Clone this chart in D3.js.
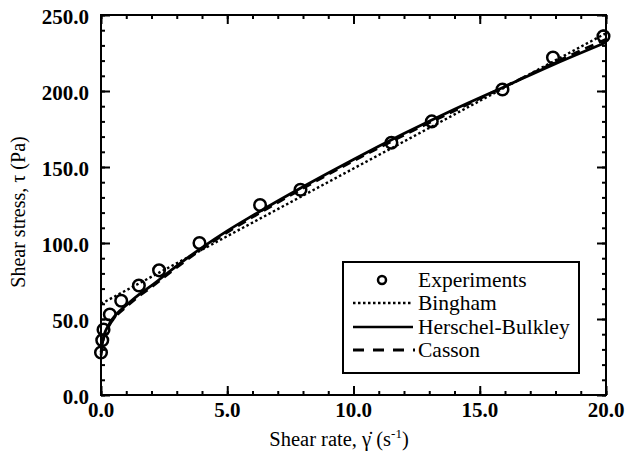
<!DOCTYPE html>
<html><head><meta charset="utf-8">
<script src="https://cdn.jsdelivr.net/npm/d3@7/dist/d3.min.js"></script>
<style>body{margin:0;background:#fff}svg{display:block}</style>
</head><body><svg id="c" width="632" height="454"></svg>
<script>
// Experimental data
const expX = [0, 0.05, 0.1, 0.35, 0.8, 1.5, 2.3, 3.9, 6.3, 7.9, 11.5, 13.1, 15.9, 17.9, 19.9];
const expY = [28, 36, 43, 53, 62, 72, 82, 100, 125, 135, 166, 180, 201, 222, 236];
// Model curves
const binghamX = [0, 20];
const binghamY = [60, 238];
const hbX = [0, 0.1, 0.3, 0.6, 1, 1.5, 2, 3, 4, 5, 6, 8, 10, 12, 14, 16, 18, 20];
const hbY = [28, 38, 46, 53, 59, 66, 72, 85, 97, 108, 118, 137, 155, 172, 188, 203, 218, 232];
const cassonX = [0, 0.1, 0.3, 0.6, 1, 1.5, 2, 3, 4, 5, 6, 8, 10, 12, 14, 16, 18, 20];
const cassonY = [26, 37, 45, 52, 58, 65, 71, 84, 96, 107, 117, 136, 154, 171, 187, 203, 219, 234];
const xTicks = [0, 5, 10, 15, 20];
const yTicks = [0, 50, 100, 150, 200, 250];
const legendLabels = ["Experiments", "Bingham", "Herschel-Bulkley", "Casson"];

const FONT = "Liberation Serif";
const svg = d3.select("#c").attr("font-family", FONT);
const L = 101, R = 606, T = 15, B = 395;
const x = d3.scaleLinear().domain([0, 20]).range([L, R]);
const y = d3.scaleLinear().domain([0, 250]).range([B, T]);
const FS = 21;

// frame
svg.append("rect").attr("x", L).attr("y", T).attr("width", R - L).attr("height", B - T)
  .attr("fill", "none").attr("stroke", "#000").attr("stroke-width", 2);

// ticks
const xMinor = d3.range(0, 20.001, 1), yMinor = d3.range(0, 250.001, 10);
function addAxis(axisGen, tx, ty) {
  const g = svg.append("g").attr("transform", `translate(${tx},${ty})`).call(axisGen);
  g.select(".domain").remove();
  g.selectAll("line").attr("stroke", "#000").attr("stroke-width", 2);
  g.selectAll("text").remove();
  return g;
}
addAxis(d3.axisBottom(x).tickValues(xMinor).tickSize(-4), 0, B);
addAxis(d3.axisBottom(x).tickValues(xTicks).tickSize(-9), 0, B);
addAxis(d3.axisTop(x).tickValues(xMinor).tickSize(-4), 0, T);
addAxis(d3.axisTop(x).tickValues(xTicks).tickSize(-9), 0, T);
addAxis(d3.axisLeft(y).tickValues(yMinor).tickSize(-4), L, 0);
addAxis(d3.axisLeft(y).tickValues(yTicks).tickSize(-9), L, 0);
addAxis(d3.axisRight(y).tickValues(yMinor).tickSize(-4), R, 0);
addAxis(d3.axisRight(y).tickValues(yTicks).tickSize(-9), R, 0);

// tick labels
svg.append("g").selectAll("text").data(xTicks).join("text")
  .attr("x", d => x(d)).attr("y", B + 22).attr("text-anchor", "middle")
  .attr("font-family", FONT).attr("font-weight", "bold")
  .attr("font-size", FS).text(d => d.toFixed(1));
svg.append("g").selectAll("text").data(yTicks).join("text")
  .attr("x", L - 12).attr("y", d => y(d) + 9).attr("text-anchor", "end")
  .attr("font-family", FONT).attr("font-weight", "bold")
  .attr("font-size", FS).text(d => d.toFixed(1));

// axis titles
const xt = svg.append("text").attr("x", 339).attr("y", 446).attr("text-anchor", "middle")
  .attr("font-family", FONT).attr("font-size", 20.5);
xt.append("tspan").text("Shear rate, \u03B3\u0307  (s");
xt.append("tspan").attr("font-size", 13).attr("dy", -8).text("-1");
xt.append("tspan").attr("dy", 8).text(")");
svg.append("text").attr("transform", "translate(25,212) rotate(-90)")
  .attr("font-family", FONT)
  .attr("text-anchor", "middle").attr("font-size", 20).text("Shear stress, \u03C4 (Pa)");

// curves
const line = d3.line().x(d => x(d[0])).y(d => y(d[1])).curve(d3.curveMonotoneX);
const plot = svg.append("g");
plot.append("path").datum(d3.zip(binghamX, binghamY)).attr("d", line)
  .attr("fill", "none").attr("stroke", "#000").attr("stroke-width", 2.4).attr("stroke-dasharray", "2.5,2.5");
plot.append("path").datum(d3.zip(cassonX, cassonY)).attr("d", line)
  .attr("fill", "none").attr("stroke", "#000").attr("stroke-width", 2.8).attr("stroke-dasharray", "9,6");
plot.append("path").datum(d3.zip(hbX, hbY)).attr("d", line)
  .attr("fill", "none").attr("stroke", "#000").attr("stroke-width", 2.8);
plot.selectAll("circle").data(d3.zip(expX, expY)).join("circle")
  .attr("cx", d => x(d[0])).attr("cy", d => y(d[1])).attr("r", 5.8)
  .attr("fill", "none").attr("stroke", "#000").attr("stroke-width", 2.5);

// legend
const lg = svg.append("g");
lg.append("rect").attr("x", 343).attr("y", 262).attr("width", 236).attr("height", 111)
  .attr("fill", "#fff").attr("stroke", "#000").attr("stroke-width", 2);
const rowY = [280, 303, 327, 350];
lg.append("circle").attr("cx", 382).attr("cy", rowY[0]).attr("r", 4)
  .attr("fill", "none").attr("stroke", "#000").attr("stroke-width", 2.5);
lg.append("line").attr("x1", 353).attr("x2", 412).attr("y1", rowY[1]).attr("y2", rowY[1])
  .attr("stroke", "#000").attr("stroke-width", 2.4).attr("stroke-dasharray", "2.5,2.5");
lg.append("line").attr("x1", 353).attr("x2", 413).attr("y1", rowY[2]).attr("y2", rowY[2])
  .attr("stroke", "#000").attr("stroke-width", 2.5);
lg.append("line").attr("x1", 353).attr("x2", 415).attr("y1", rowY[3]).attr("y2", rowY[3])
  .attr("stroke", "#000").attr("stroke-width", 2.8).attr("stroke-dasharray", "11,9");
lg.selectAll("text.l").data(legendLabels).join("text").attr("class", "l")
  .attr("font-family", FONT)
  .attr("x", 418).attr("y", (d, i) => rowY[i] + 7).attr("font-size", 21.5).text(d => d);
</script></body></html>
